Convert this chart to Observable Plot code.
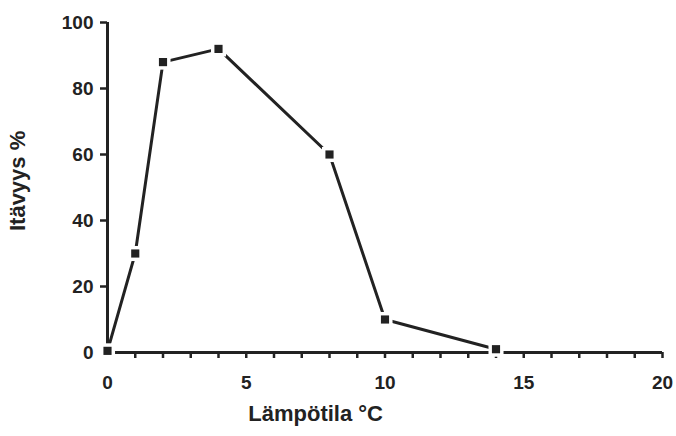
<!DOCTYPE html>
<html>
<head>
<meta charset="utf-8">
<script src="https://cdn.jsdelivr.net/npm/d3@7"></script>
<script src="https://cdn.jsdelivr.net/npm/@observablehq/plot@0.6"></script>
<style>
  html, body { margin: 0; padding: 0; background: #fff; }
  svg { display: block; }
</style>
</head>
<body>
<div id="chart"></div>
<script>
const temperature = [0, 1, 2, 4, 8, 10, 14];
const germination = [0.5, 30, 88, 92, 60, 10, 1];
const xTickLabels = [0, 5, 10, 15, 20];
const xMinorTicks = d3.range(0, 21);
const yTicks = [0, 20, 40, 60, 80, 100];
const xLabel = "Lämpötila °C";
const yLabel = "Itävyys %";

const data = temperature.map((t, i) => ({t, g: germination[i]}));
const ink = "#222";

const chart = Plot.plot({
  width: 676,
  height: 436,
  marginLeft: 107,
  marginRight: 14,
  marginTop: 22,
  marginBottom: 84,
  style: {fontFamily: "Liberation Sans, Arial, sans-serif", fontWeight: "bold", color: ink, background: "#fff"},
  x: {domain: [0, 20]},
  y: {domain: [0, 100]},
  marks: [
    Plot.ruleX([0], {y1: 0, y2: 100, stroke: ink, strokeWidth: 3}),
    Plot.ruleY([0], {x1: 0.25, x2: 20, stroke: ink, strokeWidth: 3}),
    Plot.axisY({ticks: yTicks, tickSize: 7, tickPadding: 7, strokeWidth: 2.5, stroke: ink, fontSize: 19, label: null}),
    Plot.axisX({ticks: xMinorTicks, tickSize: 6, tickFormat: () => "", strokeWidth: 2.5, stroke: ink, label: null}),
    Plot.axisX({ticks: xTickLabels, tickSize: 0, tickPadding: 23, fontSize: 19, label: null}),
    Plot.text([xLabel], {x: () => 7.5, frameAnchor: "bottom", dy: 68, fontSize: 22, fontWeight: "bold", fill: ink}),
    Plot.text([yLabel], {y: () => 52, frameAnchor: "left", textAnchor: "middle", dx: -90, rotate: -90, fontSize: 22, fontWeight: "bold", fill: ink}),
    Plot.line(data, {x: "t", y: "g", stroke: ink, strokeWidth: 3}),
    Plot.dot(data, {x: "t", y: "g", symbol: "square", r: 8.5, fill: "#fff"}),
    Plot.dot(data, {x: "t", y: "g", symbol: "square", r: 4.6, fill: ink})
  ]
});
document.getElementById("chart").append(chart);
</script>
</body>
</html>
